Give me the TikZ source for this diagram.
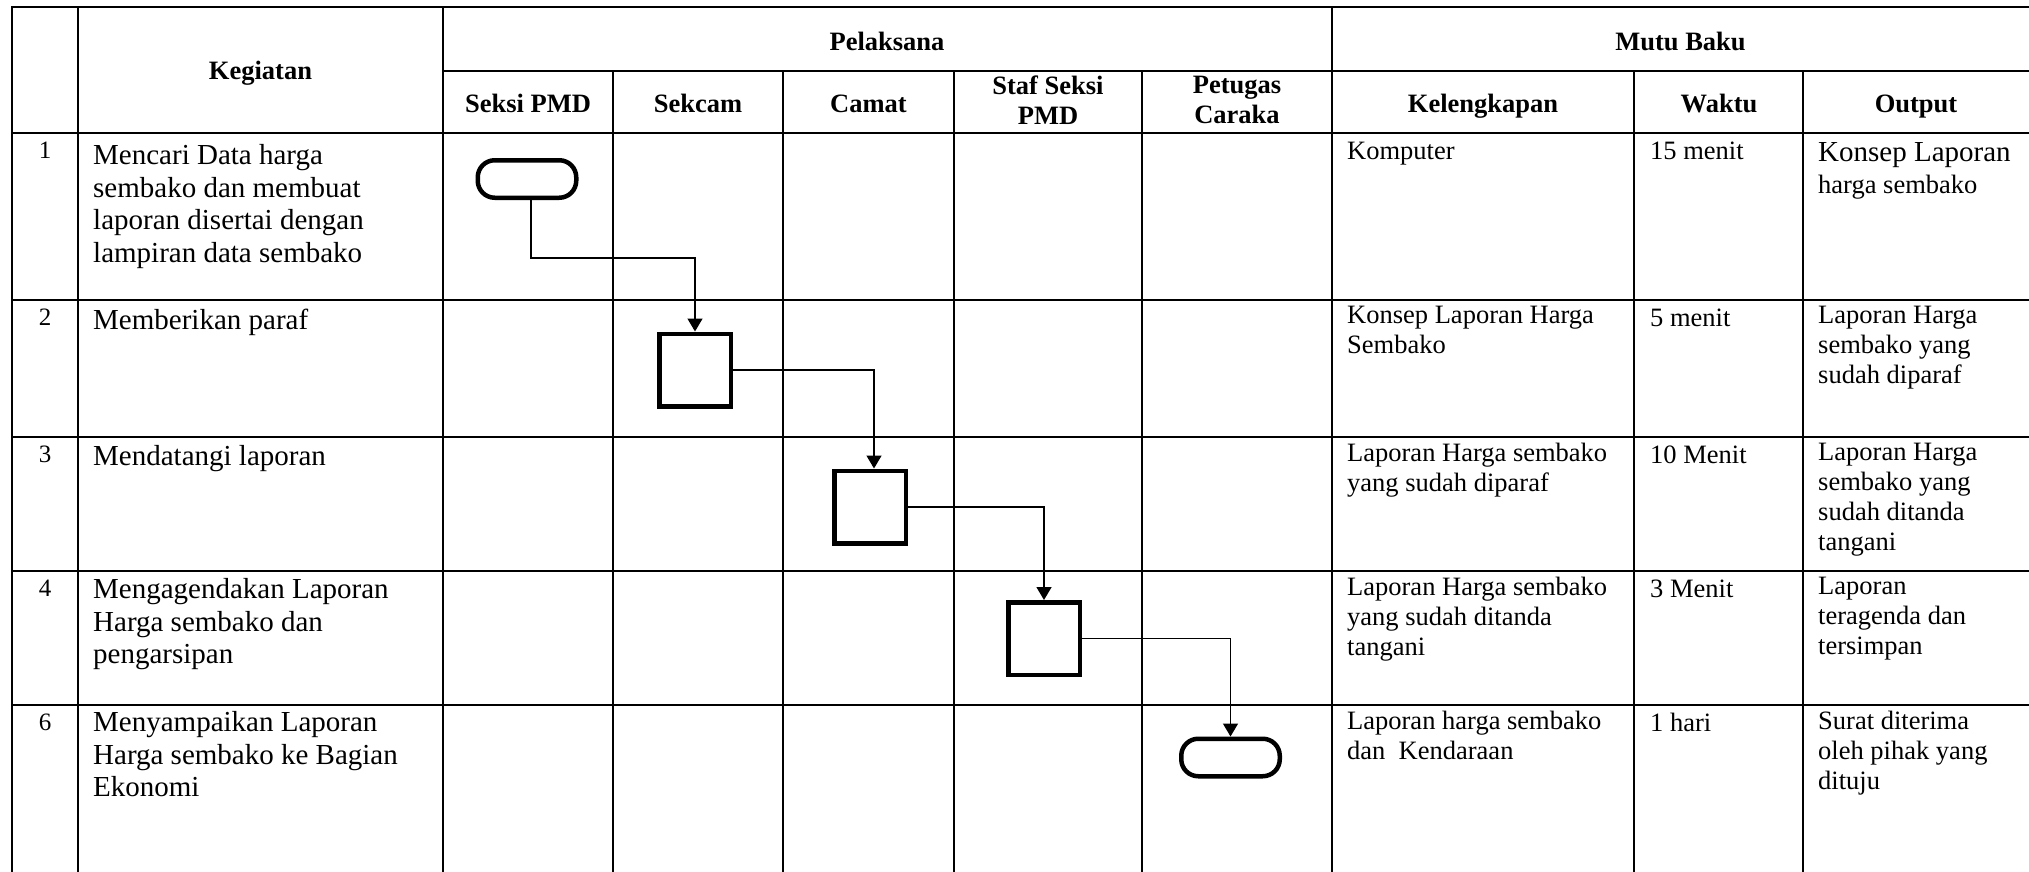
\documentclass[tikz,border=0pt]{standalone}
\usepackage{fontspec}
\setmainfont{Liberation Serif}
\usetikzlibrary{arrows.meta}
\begin{document}
\begin{tikzpicture}[x=1pt,y=-1pt,
  tbl/.style={line width=2.2pt,line cap=rect},
  kg/.style={anchor=north west,inner sep=0pt,align=left,font=\fontsize{29}{32.7}\selectfont,execute at begin node=\strut},
  mb/.style={anchor=north west,inner sep=0pt,align=left,font=\fontsize{26.5}{30}\selectfont,execute at begin node=\strut},
  num/.style={anchor=north,inner sep=0pt,font=\fontsize{25}{28}\selectfont,execute at begin node=\strut},
  hd/.style={anchor=north,inner sep=0pt,align=center,font=\bfseries\fontsize{26.5}{30}\selectfont,execute at begin node=\strut},
  term/.style={draw,line width=4.5pt,rounded corners=17pt,minimum width=98.5pt,minimum height=37.5pt,inner sep=0pt,fill=white},
  proc/.style={draw,line width=4.5pt,minimum width=71.5pt,minimum height=72.5pt,inner sep=0pt,fill=white},
  conn/.style={line width=1.5pt,-{Triangle[length=13pt,width=15pt]}}
]
\useasboundingbox (0,0) rectangle (2029,872);
% table grid
\draw[tbl] (12,7) -- (2040,7);
\draw[tbl] (443,71) -- (2040,71);
\foreach \yy in {133,300,437,571,705} \draw[tbl] (12,\yy) -- (2040,\yy);
\foreach \xx in {12,78,443,1332} \draw[tbl] (\xx,7) -- (\xx,880);
\foreach \xx in {613,783,954,1142,1634,1803} \draw[tbl] (\xx,71) -- (\xx,880);
% headers
\node[hd] (hKeg) at (260.5,58) {Kegiatan};
\node[hd] (hPel) at (887,29) {Pelaksana};
\node[hd] (hMutu) at (1680.5,29) {Mutu Baku};
\node[hd] (hSPMD) at (528,91) {Seksi PMD};
\node[hd] (hSekcam) at (698,91) {Sekcam};
\node[hd] (hCamat) at (868.5,91) {Camat};
\node[hd] (hStaf) at (1048,76) {Staf Seksi\\PMD};
\node[hd] (hPet) at (1237,76) {Petugas\\Caraka};
\node[hd] (hKel) at (1483,91) {Kelengkapan};
\node[hd] (hWak) at (1719,91) {Waktu};
\node[hd] (hOut) at (1916,91) {Output};
% row numbers
\node[num] (n1) at (45,139) {1};
\node[num] (n2) at (45,306) {2};
\node[num] (n3) at (45,443) {3};
\node[num] (n4) at (45,577) {4};
\node[num] (n6) at (45,711) {6};
% kegiatan
\node[kg] (k1) at (93,144) {Mencari Data harga\\sembako dan membuat\\laporan disertai dengan\\lampiran data sembako};
\node[kg] (k2) at (93,306) {Memberikan paraf};
\node[kg] (k3) at (93,442.1) {Mendatangi laporan};
\node[kg] (k4) at (93,578) {Mengagendakan Laporan\\Harga sembako dan\\pengarsipan};
\node[kg] (k6) at (93,711) {Menyampaikan Laporan\\Harga sembako ke Bagian\\Ekonomi};
% kelengkapan
\node[mb] (l1) at (1347,138.5) {Komputer};
\node[mb] (l2) at (1347,305.5) {Konsep Laporan Harga\\Sembako};
\node[mb] (l3) at (1347,442.5) {Laporan Harga sembako\\yang sudah diparaf};
\node[mb] (l4) at (1347,576.5) {Laporan Harga sembako\\yang sudah ditanda\\tangani};
\node[mb] (l6) at (1347,710.5) {Laporan harga sembako\\dan\ \ Kendaraan};
% waktu
\node[mb] (w1) at (1650,138.5) {15 menit};
\node[mb] (w2) at (1650,305.5) {5 menit};
\node[mb] (w3) at (1650,442.5) {10 Menit};
\node[mb] (w4) at (1650,576.5) {3 Menit};
\node[mb] (w6) at (1650,710.5) {1 hari};
% output
\node[mb] (o1) at (1818,142) {{\fontsize{29}{32.7}\selectfont Konsep Laporan}\\[2.5pt]harga sembako};
\node[mb] (o2) at (1818,305.5) {Laporan Harga\\sembako yang\\sudah diparaf};
\node[mb] (o3) at (1818,442.5) {Laporan Harga\\sembako yang\\sudah ditanda\\tangani};
\node[mb] (o4) at (1818,576.5) {Laporan\\teragenda dan\\tersimpan};
\node[mb] (o6) at (1818,710.5) {Surat diterima\\oleh pihak yang\\dituju};
% flow shapes
\node[term] (t1) at (527,179) {};
\node[proc] (b2) at (695,370) {};
\node[proc] (b3) at (870,507) {};
\node[proc] (b4) at (1044,638.5) {};
\node[term] (t6) at (1230.5,757.5) {};
% connectors
\draw[conn] ([xshift=4pt]t1.south) |- (b2.north |- 0,258) -- (b2.north);
\draw[conn] (b2.east) -| ([xshift=4pt]b3.north);
\draw[conn] (b3.east) -| (b4.north);
\draw[conn] (b4.east) -| (t6.north);
\end{tikzpicture}
\end{document}
